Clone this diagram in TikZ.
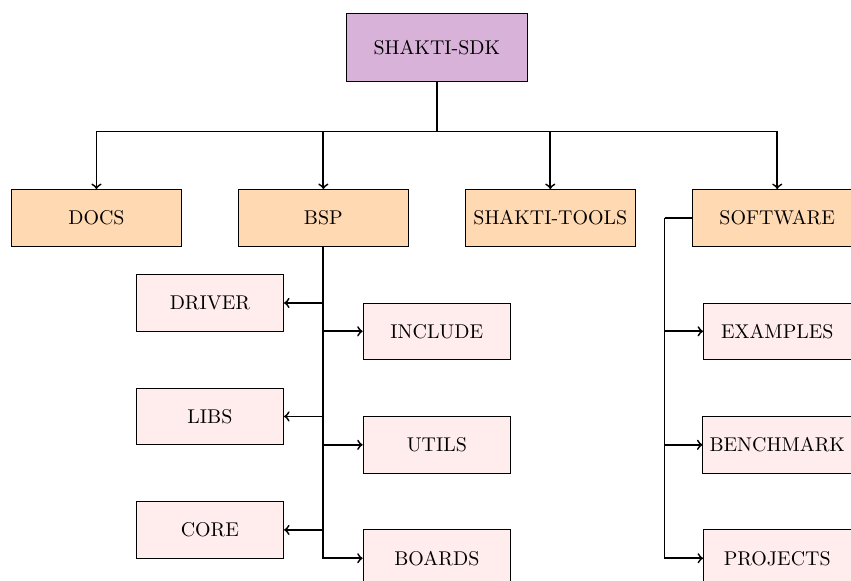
\documentclass[tikz,border=0pt]{standalone}
\usepackage{tikz}
\usetikzlibrary{shapes,arrows,fit,positioning}

\begin{document}
\begin{tikzpicture}[
    rootbox/.style={draw, fill=violet!30, minimum width=3.2cm, minimum height=1.2cm},
    dirbox/.style={draw, fill=orange!30, minimum width=3cm, minimum height=1cm},
    subbox/.style={draw, fill=pink!30, minimum width=2.6cm, minimum height=1cm},
    link/.style={line width=0.9pt, ->}
]
\useasboundingbox (-7.7,0.84) rectangle (7.3,-9.40);

\node[rootbox] (sdk) at (0,0) {SHAKTI-SDK};

\node[dirbox] (docs) at (-6,-3) {DOCS};
\node[dirbox] (bsp) at (-2,-3) {BSP};
\node[dirbox] (tools) at (2,-3) {SHAKTI-TOOLS};
\node[dirbox] (software) at (6,-3) {SOFTWARE};

\node[subbox] (driver) at (-4,-4.5) {DRIVER};
\node[subbox] (include) at (0,-5) {INCLUDE};
\node[subbox] (libs) at (-4,-6.5) {LIBS};
\node[subbox] (utils) at (0,-7) {UTILS};
\node[subbox] (core) at (-4,-8.5) {CORE};
\node[subbox] (boards) at (0,-9) {BOARDS};

\node[subbox] (examples) at (6,-5) {EXAMPLES};
\node[subbox] (benchmark) at (6,-7) {BENCHMARK};
\node[subbox] (projects) at (6,-9) {PROJECTS};

% top level
\foreach \d in {docs,bsp,tools,software}
    \draw[link] (sdk.south) -- ++(0,-0.87) -| (\d.north);

% bsp
\foreach \d in {driver,libs,core}
    \draw[link] (bsp.south) |- (\d.east);
\foreach \d in {include,utils,boards}
    \draw[link] (bsp.south) |- (\d.west);

% software
\coordinate (swtrunk) at ([xshift=-0.48cm]software.west);
\draw[line width=0.9pt] (software.west) -- (swtrunk);
\foreach \d in {examples,benchmark,projects}
    \draw[link] (swtrunk) |- (\d.west);

\end{tikzpicture}
\end{document}
